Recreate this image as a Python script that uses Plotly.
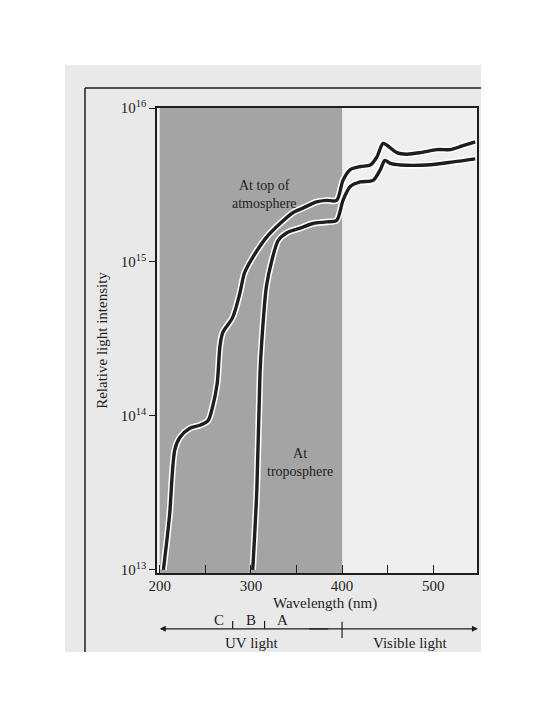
import numpy as np
import plotly.graph_objects as go

# Wavelength (nm) and log10 of relative intensity
top_wl = [204, 208, 211, 216.5, 222, 233, 244, 253, 258, 263, 266, 269, 280, 288, 293, 302, 317, 332, 346,
          357, 372, 383, 394, 401, 409, 420, 431, 438, 445, 451, 460, 471, 486, 504, 519, 530, 546]
top_log = [13.0, 13.2, 13.37, 13.78, 13.86, 13.92, 13.94, 13.97, 14.06, 14.21, 14.45, 14.54, 14.64, 14.80,
           14.93, 15.03, 15.16, 15.25, 15.32, 15.35, 15.39, 15.40, 15.40, 15.53, 15.60, 15.62, 15.63, 15.68,
           15.77, 15.75, 15.71, 15.70, 15.71, 15.73, 15.73, 15.75, 15.78]

tropo_wl = [302, 306.5, 310, 312, 317, 323, 330, 339.5, 354, 368, 383, 394, 401, 409, 420, 434, 442, 447,
            453, 464, 493, 522, 546]
tropo_log = [13.0, 13.52, 14.28, 14.49, 14.84, 15.01, 15.14, 15.19, 15.22, 15.25, 15.26, 15.27, 15.40, 15.49,
             15.52, 15.53, 15.60, 15.66, 15.64, 15.63, 15.63, 15.65, 15.67]

x_ticks = [200, 300, 400, 500]
y_ticks = [1e13, 1e14, 1e15, 1e16]
y_tick_text = ["10<sup>13</sup>", "10<sup>14</sup>", "10<sup>15</sup>", "10<sup>16</sup>"]

uv_start, uv_end = 200, 400
band_bounds = [280, 315]
band_labels = [("C", 265), ("B", 300), ("A", 335)]

FONT = "Liberation Serif"
INK = "#1e1e1e"

fig = go.Figure()
for wl, lg in [(top_wl, top_log), (tropo_wl, tropo_log)]:
    y = 10 ** np.array(lg)
    fig.add_trace(go.Scatter(x=wl, y=y, mode="lines",
                             line=dict(color="white", width=6.5, shape="spline", smoothing=0.8),
                             hoverinfo="skip", showlegend=False))
    fig.add_trace(go.Scatter(x=wl, y=y, mode="lines",
                             line=dict(color=INK, width=3.4, shape="spline", smoothing=0.8),
                             showlegend=False))

shapes = [
    # page background
    dict(type="rect", xref="paper", yref="paper", x0=-0.2875, x1=1.0125, y0=-0.170, y1=1.0925,
         fillcolor="#e9e9e9", line=dict(width=0), layer="below"),
    # plot panel
    dict(type="rect", xref="paper", yref="paper", x0=0, x1=1, y0=0, y1=1,
         fillcolor="#efefef", line=dict(width=0), layer="below"),
    # frame lines
    dict(type="line", xref="paper", yref="paper", x0=-0.225, x1=-0.225, y0=1.043, y1=-0.170,
         line=dict(color=INK, width=1.5)),
    dict(type="line", xref="paper", yref="paper", x0=-0.225, x1=1.0125, y0=1.043, y1=1.043,
         line=dict(color=INK, width=1.5)),
    # UV shading
    dict(type="rect", xref="x", yref="paper", x0=uv_start, x1=uv_end, y0=0, y1=1,
         fillcolor="#a4a4a4", line=dict(width=0), layer="below"),
    # UV / visible boundary tick
    dict(type="line", xref="x", yref="paper", x0=400, x1=400, y0=-0.105, y1=-0.140,
         line=dict(color=INK, width=1.2)),
]
for b in band_bounds:
    shapes.append(dict(type="line", xref="x", yref="paper", x0=b, x1=b, y0=-0.103, y1=-0.120,
                       line=dict(color=INK, width=1.2)))

def txt(x, y, s, xref="x", yref="paper", size=15):
    return dict(x=x, y=y, xref=xref, yref=yref, text=s, showarrow=False, xanchor="center",
                yanchor="middle", font=dict(family=FONT, size=size, color=INK))

# annotation y on a log axis is given as the exponent
annotations = [
    txt(315, 15.44, "At top of<br>atmosphere", yref="y", size=14),
    txt(354, 13.70, "At<br>troposphere", yref="y", size=14),
    txt(381, -0.065, "Wavelength (nm)"),
    # double-headed arrow
    dict(x=200, y=-0.120, ax=170, ay=0, xref="x", yref="paper", axref="pixel", ayref="pixel",
         text="", showarrow=True, arrowhead=2, arrowsize=1, arrowwidth=1.2, arrowcolor=INK),
    dict(x=1.003, y=-0.120, ax=-170, ay=0, xref="paper", yref="paper", axref="pixel", ayref="pixel",
         text="", showarrow=True, arrowhead=2, arrowsize=1, arrowwidth=1.2, arrowcolor=INK),
    txt(301, -0.151, "UV light"),
    txt(475, -0.151, "Visible light"),
]
for lab, xv in band_labels:
    annotations.append(txt(xv, -0.101, lab))

# note: the page body has an 8px default margin, so margins are offset by 8px
fig.update_layout(
    width=540, height=720,
    margin=dict(l=149, r=71, t=100, b=155),
    paper_bgcolor="white", plot_bgcolor="rgba(0,0,0,0)",
    font=dict(family=FONT, size=15, color=INK),
    shapes=shapes, annotations=annotations,
    xaxis=dict(range=[197, 548], tickvals=x_ticks, ticks="inside", ticklen=8, tickcolor=INK,
               showline=True, linecolor=INK, linewidth=1.5, mirror=True, showgrid=False,
               zeroline=False, tickfont=dict(family=FONT, size=15), ticklabelstandoff=-2,
               minor=dict(ticks="inside", dtick=50, ticklen=8, tickcolor=INK)),
    yaxis=dict(type="log", range=[12.98, 16.0], tickvals=y_ticks, ticktext=y_tick_text,
               ticks="outside", ticklen=6, tickcolor=INK,
               showline=True, linecolor=INK, linewidth=1.5, mirror=True, showgrid=False,
               zeroline=False, tickfont=dict(family=FONT, size=15),
               title=dict(text="Relative light intensity", font=dict(family=FONT, size=15), standoff=10)),
)

fig.write_html("out.html")
